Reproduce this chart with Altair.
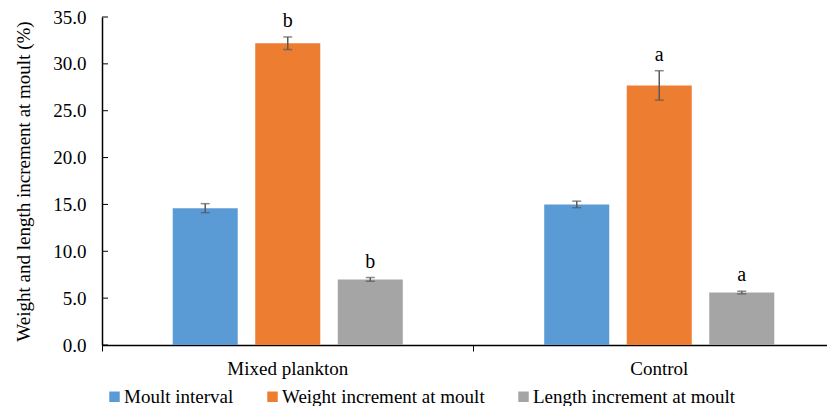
import altair as alt
import pandas as pd

groups = ["Mixed plankton", "Control"]
series = ["Moult interval", "Weight increment at moult", "Length increment at moult"]
mixed_means = [14.6, 32.2, 7.0]
control_means = [15.0, 27.7, 5.6]
mixed_err = [0.48, 0.67, 0.2]
control_err = [0.35, 1.57, 0.14]
mixed_letters = ["", "b", "b"]
control_letters = ["", "a", "a"]
y_ticks = [0, 5, 10, 15, 20, 25, 30, 35]
colors = ["#5B9BD5", "#ED7D31", "#A5A5A5"]

rows = []
for g, means, errs, lets in [
    (groups[0], mixed_means, mixed_err, mixed_letters),
    (groups[1], control_means, control_err, control_letters),
]:
    for s, m, e, l in zip(series, means, errs, lets):
        rows.append(dict(group=g, series=s, mean=m, lo=m - e, hi=m + e, letter=l))
df = pd.DataFrame(rows)
tick_df = pd.DataFrame({"v": y_ticks})

FONT = "'Liberation Serif', 'Times New Roman', 'DejaVu Serif', serif"
FS = 19

x_enc = alt.X(
    "group:N",
    sort=groups,
    scale=alt.Scale(range=[0, 743], paddingInner=0, paddingOuter=0),
    axis=alt.Axis(
        title=None, labelAngle=0, bandPosition=0, domainColor="black", domainWidth=1.5,
        tickColor="black", tickSize=6, tickWidth=1, labelPadding=8, labelFontSize=FS,
        labelFont=FONT, labelColor="black",
    ),
)
xoff = alt.XOffset("series:N", sort=series,
                   scale=alt.Scale(paddingInner=0.212, paddingOuter=0.857))
y_scale = alt.Scale(domain=[0, 35], nice=False)
y_axis = alt.Axis(
    title="Weight and length increment at moult (%)", values=y_ticks, format=".1f",
    ticks=False, domainColor="black", domainWidth=1.5, labelPadding=16, grid=False,
    labelFont=FONT, labelFontSize=FS, labelColor="black",
    titleFont=FONT, titleFontSize=FS, titleFontWeight="normal", titleColor="black",
    titlePadding=19,
)

base = alt.Chart(df)

bars = base.mark_bar().encode(
    x=x_enc,
    xOffset=xoff,
    y=alt.Y("mean:Q", scale=y_scale, axis=y_axis),
    color=alt.Color(
        "series:N", sort=series, scale=alt.Scale(domain=series, range=colors),
        legend=alt.Legend(
            title=None, orient="none", legendX=3, legendY=370, direction="horizontal",
            symbolType="square", symbolSize=110, symbolStrokeWidth=0,
            labelFont=FONT, labelFontSize=FS, labelColor="black", labelLimit=0,
            columnPadding=29, labelOffset=0,
        ),
    ),
)

err = base.mark_rule(color="#595959", strokeWidth=1.5).encode(
    x=x_enc, xOffset=xoff,
    y=alt.Y("lo:Q", scale=y_scale, axis=y_axis), y2="hi:Q",
)
cap_hi = base.mark_tick(color="#595959", size=9, thickness=1.5).encode(
    x=x_enc, xOffset=xoff, y=alt.Y("hi:Q", scale=y_scale, axis=y_axis),
)
cap_lo = base.mark_tick(color="#595959", size=9, thickness=1.5).encode(
    x=x_enc, xOffset=xoff, y=alt.Y("lo:Q", scale=y_scale, axis=y_axis),
)
letters = base.mark_text(dy=-6, baseline="bottom", fontSize=20, font=FONT, color="black").encode(
    x=x_enc, xOffset=xoff, y=alt.Y("hi:Q", scale=y_scale, axis=y_axis), text="letter:N",
)
inticks = alt.Chart(tick_df).mark_rule(color="black", strokeWidth=1).encode(
    y=alt.Y("v:Q", scale=y_scale, axis=y_axis), x=alt.value(0), x2=alt.value(6),
)

chart = alt.layer(bars, err, cap_hi, cap_lo, letters, inticks).properties(
    width=725, height=328,
    autosize=alt.AutoSizeParams(type="none"),
    padding={"left": 94, "top": 9, "right": 0, "bottom": 61},
).configure_view(stroke=None)

chart.save("out.html", embed_options={"renderer": "svg", "actions": False})
